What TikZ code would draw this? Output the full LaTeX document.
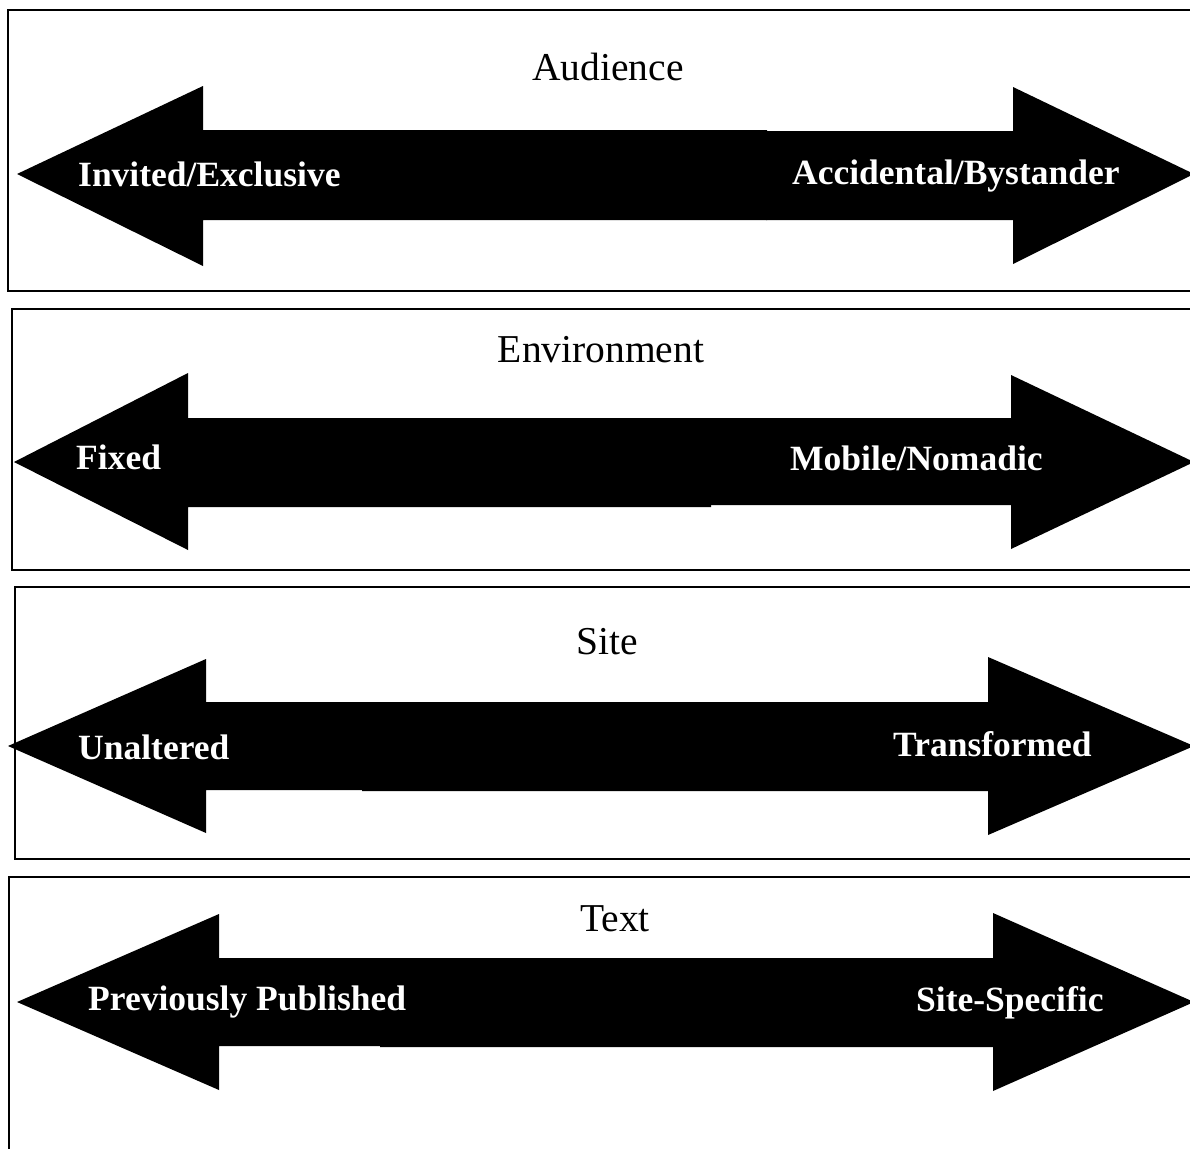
\documentclass[tikz,border=0pt]{standalone}
\usepackage{fontspec}
\setmainfont{Liberation Serif}
\begin{document}
\begin{tikzpicture}[x=1pt,y=-1pt,
  panel/.style={draw=black,line width=1.8pt},
  arrowpart/.style={fill=black,draw=none},
  title/.style={anchor=base,inner sep=0pt,font=\fontsize{39.5}{44}\selectfont},
  lbl/.style={anchor=base west,inner sep=0pt,text=white,font=\fontsize{35.5}{40}\selectfont\bfseries}]
\useasboundingbox (0,0) rectangle (1190,1148);
\clip (0,0) rectangle (1190,1148);
\fill[white] (0,0) rectangle (1190,1148);
% panels
\draw[panel] (8,10) rectangle (1210,291);
\draw[panel] (12,309) rectangle (1210,570);
\draw[panel] (15,587) rectangle (1210,859);
\draw[panel] (9,877) rectangle (1210,1170);
% row 1 arrows
\fill[arrowpart] (17,174) -- (203,86) -- (203,130) -- (767,130) -- (767,220) -- (203,220) -- (203,266) -- cycle;
\fill[arrowpart] (766,131) -- (1013,131) -- (1013,87) -- (1194,174) -- (1013,264) -- (1013,220) -- (766,220) -- cycle;
% row 2 arrows
\fill[arrowpart] (14,462) -- (188,373) -- (188,418) -- (711,418) -- (711,507) -- (188,507) -- (188,550) -- cycle;
\fill[arrowpart] (710,418) -- (1011,418) -- (1011,375) -- (1194,462) -- (1011,549) -- (1011,505) -- (710,505) -- cycle;
% row 3 arrows
\fill[arrowpart] (8,746) -- (206,659) -- (206,702) -- (363,702) -- (363,790) -- (206,790) -- (206,833) -- cycle;
\fill[arrowpart] (362,702) -- (988,702) -- (988,657) -- (1194,746) -- (988,835) -- (988,791) -- (362,791) -- cycle;
% row 4 arrows
\fill[arrowpart] (17,1002) -- (219,914) -- (219,958) -- (381,958) -- (381,1046) -- (219,1046) -- (219,1090) -- cycle;
\fill[arrowpart] (380,958) -- (993,958) -- (993,913) -- (1194,1002) -- (993,1091) -- (993,1047) -- (380,1047) -- cycle;
% titles
\node[title] (t1) at (608,80) {Audience};
\node[title] (t2) at (601,362) {Environment};
\node[title] (t3) at (607,654) {Site};
\node[title] (t4) at (615,931) {Text};
% labels
\node[lbl] (l1) at (78,186) {Invited/Exclusive};
\node[lbl] (r1) at (792,184) {Accidental/Bystander};
\node[lbl] (l2) at (76,469) {Fixed};
\node[lbl] (r2) at (790,470) {Mobile/Nomadic};
\node[lbl] (l3) at (78,759) {Unaltered};
\node[lbl] (r3) at (893,756) {Transformed};
\node[lbl] (l4) at (88,1010) {Previously Published};
\node[lbl] (r4) at (916,1011) {Site-Specific};
\end{tikzpicture}
\end{document}
